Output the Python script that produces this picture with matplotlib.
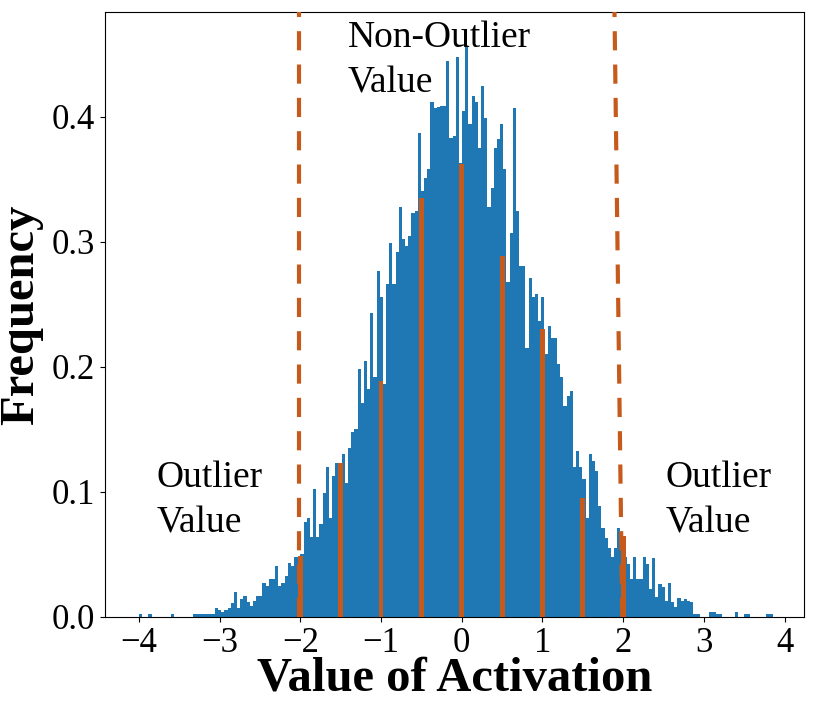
import numpy as np
import matplotlib
matplotlib.use('Agg')
import matplotlib.pyplot as plt

# histogram of activations: 200 bins between the min and max value
bin_lo, bin_hi, n_bins = -4.0, 3.85, 200
freq = [
    0.002, 0, 0, 0.002, 0, 0, 0, 0, 0, 0,
    0.002, 0, 0, 0, 0, 0, 0, 0.002, 0.002, 0.002,
    0.002, 0.002, 0.002, 0.002, 0.0075, 0.0053, 0.004, 0.0053, 0.0075, 0.011,
    0.020, 0.0075, 0.0147, 0.017, 0.012, 0.0085, 0.0125, 0.017, 0.017, 0.027,
    0.025, 0.030, 0.030, 0.041, 0.025, 0.027, 0.033, 0.043, 0.0405, 0.048,
    0.048, 0.050, 0.076, 0.079, 0.064, 0.102, 0.064, 0.074, 0.099, 0.120,
    0.079, 0.1125, 0.123, 0.123, 0.130, 0.107, 0.135, 0.148, 0.150, 0.198,
    0.171, 0.205, 0.182, 0.243, 0.192, 0.277, 0.256, 0.186, 0.266, 0.299,
    0.266, 0.292, 0.328, 0.302, 0.297, 0.305, 0.323, 0.325, 0.387, 0.341,
    0.351, 0.358, 0.412, 0.407, 0.408, 0.409, 0.409, 0.445, 0.383, 0.385,
    0.448, 0.363, 0.405, 0.457, 0.394, 0.417, 0.412, 0.375, 0.425, 0.399,
    0.328, 0.343, 0.375, 0.382, 0.394, 0.358, 0.268, 0.307, 0.407, 0.325,
    0.281, 0.281, 0.215, 0.271, 0.256, 0.258, 0.237, 0.256, 0.210, 0.233,
    0.223, 0.223, 0.202, 0.192, 0.169, 0.177, 0.181, 0.120, 0.133, 0.120,
    0.110, 0.079, 0.130, 0.125, 0.117, 0.089, 0.071, 0.063, 0.055, 0.048,
    0.055, 0.071, 0.057, 0.048, 0.042, 0.030, 0.048, 0.030, 0.030, 0.048,
    0.042, 0.022, 0.047, 0.016, 0.026, 0.024, 0.013, 0.027, 0.012, 0.008,
    0.015, 0.013, 0.014, 0.013, 0.012, 0.002, 0.002, 0, 0, 0,
    0.004, 0.004, 0.002, 0.002, 0, 0, 0, 0, 0.004, 0,
    0, 0.002, 0.002, 0, 0, 0, 0, 0, 0.002, 0.002,
]
assert len(freq) == n_bins

# quantization levels (orange)
q_levels = [-2, -1.5, -1, -0.5, 0, 0.5, 1, 1.5, 2]
q_freq = [0.049, 0.123, 0.189, 0.335, 0.362, 0.289, 0.230, 0.095, 0.065]

# clipping thresholds (dashed); the right one leans slightly
left_clip = [-2.016, -2.016]
right_clip = [1.988, 1.892]

blue = '#1f77b4'
orange = '#c65a1b'

plt.rcParams['font.family'] = ['Liberation Serif', 'DejaVu Serif']

fig, ax = plt.subplots(figsize=(8.3, 7.04), dpi=100)
fig.subplots_adjust(left=0.1265, right=0.9687, top=0.983, bottom=0.1236)

edges = np.linspace(bin_lo, bin_hi, n_bins + 1)
centers = (edges[:-1] + edges[1:]) / 2
ax.hist(centers, bins=edges, weights=freq, color=blue)

ax.bar(q_levels, q_freq, width=0.06, color=orange, zorder=3)

y_top = 0.484
ax.plot(left_clip, [0, y_top], color=orange, lw=3, dashes=[4.6, 3.4], zorder=4)
ax.plot(right_clip, [0, y_top], color=orange, lw=3, dashes=[4.6, 3.4], zorder=4)

txt = dict(fontsize=27, va='top', ha='left', linespacing=1.4)
ax.text(-3.78, 0.125, "Outlier\nValue", **txt)
ax.text(2.52, 0.125, "Outlier\nValue", **txt)
ax.text(-1.41, 0.477, "Non-Outlier\nValue", **txt)

ax.set_xlim(-4.42, 4.24)
ax.set_ylim(0, y_top)
ax.set_xticks(range(-4, 5))
ax.set_yticks([0.0, 0.1, 0.2, 0.3, 0.4])
ax.tick_params(axis='both', which='major', labelsize=25)

ax.set_xlabel("Value of Activation", fontsize=35, fontweight='bold', labelpad=-2)
ax.set_ylabel("Frequency", fontsize=35, fontweight='bold', labelpad=6)

plt.savefig('out.png')
